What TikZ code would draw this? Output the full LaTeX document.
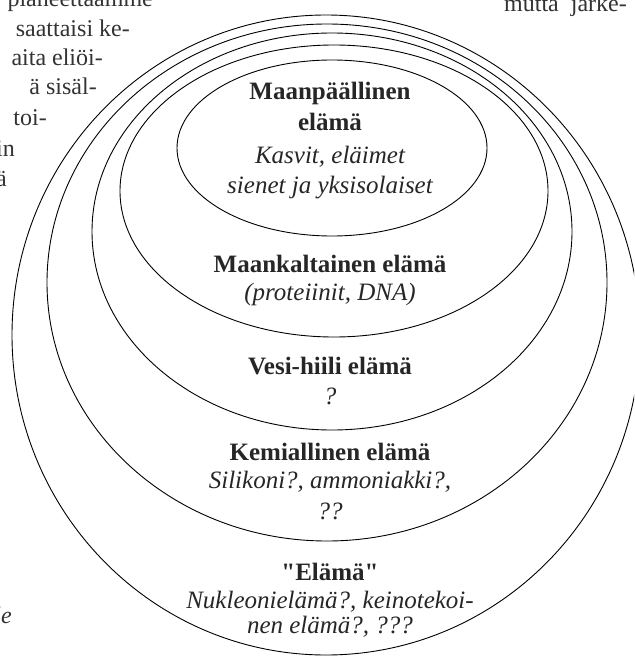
\documentclass[tikz,border=0pt]{standalone}
\usepackage{fontspec}
\setmainfont{Liberation Serif}[Ligatures=TeXOff]
\usetikzlibrary{positioning}
\tikzset{ring/.style={draw, line width=0.9pt}}
\tikzstyle{head}=[font=\bfseries\fontsize{25}{30}\selectfont, text=black!85, inner sep=0pt, anchor=base]
\tikzstyle{note}=[font=\itshape\fontsize{25}{30}\selectfont, text=black!85, inner sep=0pt]
\tikzstyle{page}=[font=\fontsize{24}{30}\selectfont, text=black!80, inner sep=0pt, anchor=base east]

\begin{document}
\begin{tikzpicture}[x=1pt, y=-1pt]
\useasboundingbox (0,0) rectangle (634,658);
\clip (0,0) rectangle (634,658);
% text of the page round the figure
\node[page] (pg1) at (153,7) {planeettaamme};
\node[page] (pg2) at (130,37) {saattaisi ke-};
\node[page] (pg3) at (103,66) {aita eliöi-};
\node[page] (pg4) at (97,95) {ä sisäl-};
\node[page] (pg5) at (47,125) {toi-};
\node[page] (pg6) at (15,156) {in};
\node[page] (pg7) at (7,186) {ä};
\node[page, font=\itshape\fontsize{24}{30}\selectfont] (pg8) at (12,623) {le};
\node[page] (pg9) at (627,12) {mutta\ \ järke-};
% rings
\draw[ring] (326,335) ellipse [x radius=314pt, y radius=320pt];
\draw[ring] (327,282.5) ellipse [x radius=280pt, y radius=258.5pt];
\draw[ring] (332,231.5) ellipse [x radius=240pt, y radius=198.5pt];
\draw[ring] (334,191) ellipse [x radius=214pt, y radius=146pt];
\draw[ring] (332,148) ellipse [x radius=155pt, y radius=88pt];
% labels
\node[head] (h1) at (330,100) {Maanpäällinen};
\node[head, below=30pt of h1.base, anchor=base] (h1b) {elämä};
\node[note, below=33pt of h1b.base, anchor=base] (n1) {Kasvit, eläimet};
\node[note, below=30pt of n1.base, anchor=base] (n1b) {sienet ja yksisolaiset};
\node[head] (h2) at (330,272) {Maankaltainen elämä};
\node[note, below=28pt of h2.base, anchor=base] (n2) {(proteiinit, DNA)};
\node[head] (h3) at (330,374) {Vesi-hiili elämä};
\node[note, below=30pt of h3.base, anchor=base] (n3) {?};
\node[head] (h4) at (330,460) {Kemiallinen elämä};
\node[note, below=28pt of h4.base, anchor=base] (n4) {Silikoni?, ammoniakki?,};
\node[note, below=31pt of n4.base, anchor=base] (n4b) {??};
\node[head] (h5) at (330,580) {"Elämä"};
\node[note, below=28pt of h5.base, anchor=base] (n5) {Nukleonielämä?, keinotekoi-};
\node[note, below=25pt of n5.base, anchor=base] (n5b) {nen elämä?, ???};
\end{tikzpicture}
\end{document}
